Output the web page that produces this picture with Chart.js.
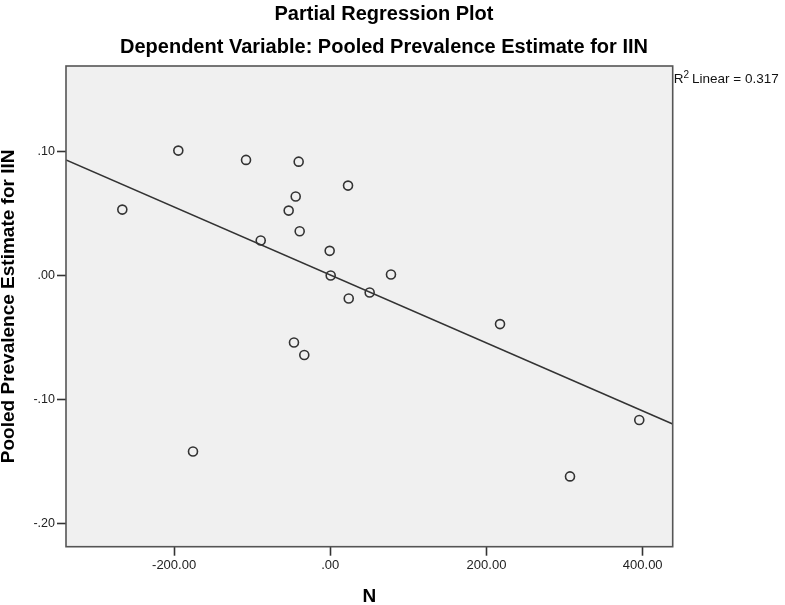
<!DOCTYPE html>
<html>
<head>
<meta charset="utf-8">
<script src="https://cdn.jsdelivr.net/npm/chart.js@4.4.1/dist/chart.umd.min.js"></script>
<style>
  html, body { margin: 0; padding: 0; background: #ffffff; }
  #wrap { width: 785px; height: 605px; position: relative; }
</style>
</head>
<body>
<div id="wrap"><canvas id="c" width="785" height="605"></canvas></div>
<script>
// ---- data ----
const pointsN = [-194.6, -107.9, -40.5, 22.7, -44.3, -53.3, -266.3, -39.2, -89.1, -0.8,
                 0.5, 77.7, 50.4, 23.6, -46.5, -33.3, -175.8, 217.3, 395.6, 306.9];
const pointsIIN = [0.1006, 0.0931, 0.0917, 0.0724, 0.0636, 0.0523, 0.0531, 0.0357, 0.0282, 0.0199,
                   0.0000, 0.0008, -0.0137, -0.0185, -0.0539, -0.0640, -0.1416, -0.0391, -0.1163, -0.1617];
const fitN = [-338.4, 438.4];
const fitIIN = [0.0931, -0.1196];
const xTickValues = [-200, 0, 200, 400];
const xTickLabels = ['-200.00', '.00', '200.00', '400.00'];
const yTickValues = [0.10, 0.00, -0.10, -0.20];
const yTickLabels = ['.10', '.00', '-.10', '-.20'];
const titleText = 'Partial Regression Plot';
const subtitleText = 'Dependent Variable: Pooled Prevalence Estimate for IIN';
const xTitle = 'N';
const yTitle = 'Pooled Prevalence Estimate for IIN';
const r2Text = 'Linear = 0.317';

const FONT = "'Liberation Sans', Arial, sans-serif";

const scatterData = pointsN.map((x, i) => ({ x: x, y: pointsIIN[i] }));
const fitData = fitN.map((x, i) => ({ x: x, y: fitIIN[i] }));

const plotBg = {
  id: 'plotBg',
  beforeDatasetsDraw(chart) {
    const { ctx, chartArea: a } = chart;
    ctx.save();
    ctx.fillStyle = '#f0f0f0';
    ctx.fillRect(a.left, a.top, a.right - a.left, a.bottom - a.top);
    ctx.restore();
  },
  afterDatasetsDraw(chart) {
    const { ctx, chartArea: a } = chart;
    ctx.save();
    ctx.strokeStyle = '#555555';
    ctx.lineWidth = 1.6;
    ctx.strokeRect(a.left, a.top, a.right - a.left, a.bottom - a.top);
    // R2 label
    ctx.fillStyle = '#111111';
    ctx.textBaseline = 'alphabetic';
    ctx.textAlign = 'left';
    ctx.font = '13.5px ' + FONT;
    let x = a.right + 1;
    const yb = 83;
    ctx.fillText('R', x, yb);
    x += ctx.measureText('R').width;
    ctx.font = '10px ' + FONT;
    ctx.fillText('2', x, yb - 5.5);
    x += ctx.measureText('2').width + 3;
    ctx.font = '13.5px ' + FONT;
    ctx.fillText(r2Text, x, yb);
    ctx.restore();
  }
};

new Chart(document.getElementById('c'), {
  type: 'scatter',
  data: {
    datasets: [
      {
        type: 'line',
        data: fitData,
        borderColor: '#333333',
        borderWidth: 1.6,
        pointRadius: 0,
        fill: false,
        order: 2
      },
      {
        type: 'scatter',
        data: scatterData,
        pointRadius: 4.5,
        pointHoverRadius: 4.5,
        pointBorderWidth: 1.6,
        pointBorderColor: '#333333',
        pointBackgroundColor: 'rgba(0,0,0,0)',
        order: 1
      }
    ]
  },
  options: {
    responsive: false,
    animation: false,
    devicePixelRatio: 1,
    layout: { padding: { left: 0, right: 17, top: 0, bottom: 0 } },
    plugins: {
      legend: { display: false },
      tooltip: { enabled: false },
      title: {
        display: true,
        text: titleText,
        color: '#000000',
        font: { family: FONT, size: 20, weight: 'bold', lineHeight: 1.2 },
        padding: { top: 2, bottom: 9 }
      },
      subtitle: {
        display: true,
        text: subtitleText,
        color: '#000000',
        font: { family: FONT, size: 20, weight: 'bold', lineHeight: 1.2 },
        padding: { top: 0, bottom: 7 }
      }
    },
    scales: {
      x: {
        type: 'linear',
        position: 'bottom',
        min: fitN[0],
        max: fitN[1],
        afterBuildTicks: s => { s.ticks = xTickValues.map(v => ({ value: v })); },
        afterFit: s => { s.height = 58.3; },
        ticks: {
          color: '#222222',
          font: { family: FONT, size: 13 },
          padding: 2,
          maxRotation: 0,
          callback: (v) => { const i = xTickValues.indexOf(v); return i >= 0 ? xTickLabels[i] : ''; }
        },
        grid: { drawOnChartArea: false, drawTicks: true, tickLength: 9, tickColor: '#333333', tickWidth: 1.6 },
        border: { display: false },
        title: {
          display: true,
          text: xTitle,
          color: '#000000',
          font: { family: FONT, size: 19, weight: 'bold', lineHeight: 0.84 },
          padding: { top: 0, bottom: 0 }
        }
      },
      y: {
        type: 'linear',
        position: 'left',
        min: -0.2183,
        max: 0.1687,
        afterBuildTicks: s => { s.ticks = yTickValues.map(v => ({ value: v })); },
        afterFit: s => { s.width = 66; },
        ticks: {
          color: '#222222',
          font: { family: FONT, size: 12.5 },
          padding: 2,
          callback: (v) => { const i = yTickValues.findIndex(t => Math.abs(t - v) < 1e-9); return i >= 0 ? yTickLabels[i] : ''; }
        },
        grid: { drawOnChartArea: false, drawTicks: true, tickLength: 9, tickColor: '#333333', tickWidth: 1.6 },
        border: { display: false },
        title: {
          display: true,
          text: yTitle,
          color: '#000000',
          font: { family: FONT, size: 19, weight: 'bold', lineHeight: 0.94 },
          padding: { top: 0, bottom: 0 }
        }
      },
      y2: {
        type: 'linear',
        position: 'right',
        display: true,
        afterFit: s => { s.width = 95.3; },
        ticks: { display: false },
        grid: { display: false, drawTicks: false },
        border: { display: false },
        title: { display: false }
      }
    }
  },
  plugins: [plotBg]
});
</script>
</body>
</html>
